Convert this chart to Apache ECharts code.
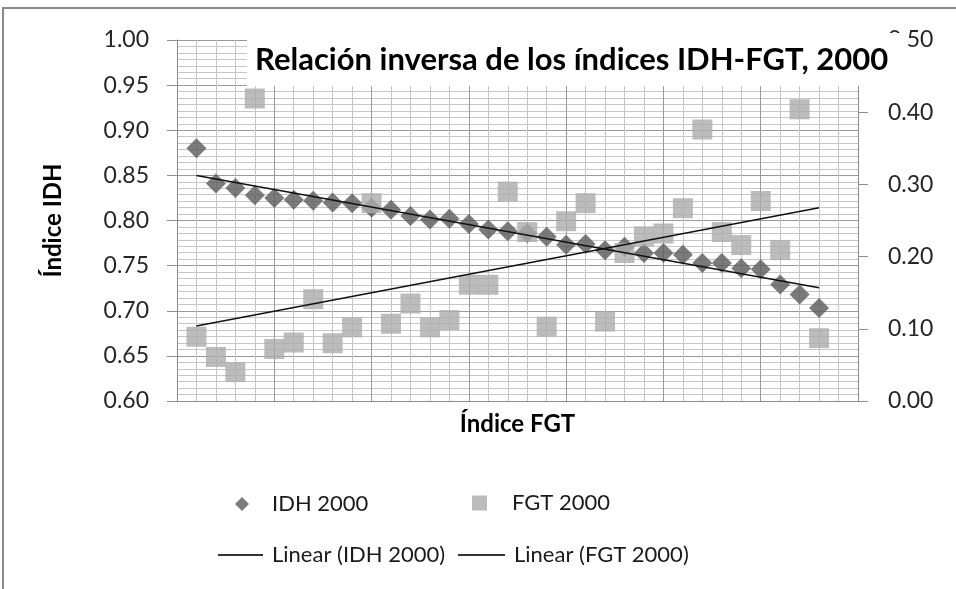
<!DOCTYPE html>
<html><head><meta charset="utf-8">
<script src="https://cdn.jsdelivr.net/npm/echarts/dist/echarts.min.js"></script>
<style>html,body{margin:0;padding:0;background:#fff}#c{width:956px;height:589px}</style>
</head><body><div id="c"></div>
<script>
// Observation index along the (unlabelled) horizontal axis
const obsIndex = [1,2,3,4,5,6,7,8,9,10,11,12,13,14,15,16,17,18,19,20,21,22,23,24,25,26,27,28,29,30,31,32,33];
// IDH 2000 (left axis)
const idh2000 = [0.880,0.841,0.836,0.828,0.825,0.823,0.822,0.820,0.819,0.814,0.812,0.805,0.801,0.802,0.796,0.790,
                 0.788,0.786,0.782,0.773,0.774,0.767,0.771,0.764,0.764,0.762,0.753,0.753,0.747,0.746,0.729,0.718,0.703];
// FGT 2000 (right axis)
const fgt2000 = [0.089,0.061,0.040,0.419,0.072,0.081,0.141,0.080,0.102,0.274,0.107,0.135,0.102,0.112,0.161,0.161,
                 0.290,0.234,0.103,0.249,0.274,0.110,0.205,0.228,0.232,0.267,0.376,0.234,0.216,0.277,0.209,0.404,0.087];
const seriesNames = ['IDH 2000','FGT 2000','Linear (IDH 2000)','Linear (FGT 2000)'];
const titleText = 'Relación inversa de los índices IDH-FGT, 2000';
const leftAxisName = 'Índice IDH';
const bottomAxisName = 'Índice FGT';

function linFit(xs, ys){
  const n = xs.length;
  let sx=0, sy=0; for(let i=0;i<n;i++){sx+=xs[i]; sy+=ys[i];}
  const mx=sx/n, my=sy/n; let sxy=0, sxx=0;
  for(let i=0;i<n;i++){sxy+=(xs[i]-mx)*(ys[i]-my); sxx+=(xs[i]-mx)*(xs[i]-mx);}
  const b=sxy/sxx, a=my-b*mx;
  const x0=xs[0], x1=xs[n-1];
  return [[x0,a+b*x0],[x1,a+b*x1]];
}
const pair = (xs, ys) => xs.map((x,i)=>[x, ys[i]]);

const FONT = 'Lato';
const axisGray = '#8c8c8c';
const chart = echarts.init(document.getElementById('c'));
const legendBase = {orient:'horizontal', padding:0, selectedMode:false,
  textStyle:{fontFamily:FONT, fontSize:22, color:'#1a1a1a', lineHeight:26}};
chart.setOption({
  animation:false,
  backgroundColor:'#fff',
  title:{text:titleText, left:247, top:33, backgroundColor:'#fff', padding:[10,18,10,8],
    textStyle:{fontFamily:FONT, fontWeight:'bold', fontSize:31, color:'#000', lineHeight:33}},
  graphic:[{type:'rect', silent:true, z:-10, shape:{x:3,y:8,width:1000,height:1000},
    style:{fill:'none', stroke:'#8a8a8a', lineWidth:2}}],
  grid:{left:177, right:98, top:40, bottom:188, containLabel:false},
  legend:[
    Object.assign({}, legendBase, {data:[{name:seriesNames[0], icon:'diamond'}], left:235, top:491, itemWidth:14, itemHeight:14,
      textStyle:Object.assign({}, legendBase.textStyle, {padding:[0,0,0,18]})}),
    Object.assign({}, legendBase, {data:[{name:seriesNames[1], icon:'rect'}], left:472, top:490, itemWidth:15, itemHeight:15,
      textStyle:Object.assign({}, legendBase.textStyle, {padding:[0,0,0,20]})}),
    Object.assign({}, legendBase, {data:[{name:seriesNames[2], icon:'rect'}], left:218, top:542, itemWidth:45, itemHeight:2,
      textStyle:Object.assign({}, legendBase.textStyle, {padding:[0,0,0,4]})}),
    Object.assign({}, legendBase, {data:[{name:seriesNames[3], icon:'rect'}], left:458, top:542, itemWidth:47, itemHeight:2,
      textStyle:Object.assign({}, legendBase.textStyle, {padding:[0,0,0,4]})})
  ],
  xAxis:{type:'value', min:0, max:35, interval:5,
    axisLine:{show:true, onZero:false, lineStyle:{color:axisGray}},
    axisTick:{show:false}, axisLabel:{show:false},
    splitLine:{show:true, lineStyle:{color:'#9a9a9a'}},
    minorTick:{show:false, splitNumber:5},
    minorSplitLine:{show:true, lineStyle:{color:'#c6c6c6'}},
    name:bottomAxisName, nameLocation:'middle', nameGap:11,
    nameTextStyle:{fontFamily:FONT, fontWeight:'bold', fontSize:24, color:'#000'}},
  yAxis:[
    {type:'value', position:'left', min:0.6, max:1.0, interval:0.05,
      axisLine:{show:true, onZero:false, lineStyle:{color:axisGray}},
      axisTick:{show:true, length:10, lineStyle:{color:axisGray}},
      axisLabel:{formatter:v=>v.toFixed(2), fontFamily:FONT, fontSize:23, color:'#262626', margin:28},
      splitLine:{show:true, lineStyle:{color:'#9a9a9a'}},
      minorTick:{show:false, splitNumber:7},
      minorSplitLine:{show:true, lineStyle:{color:'#c6c6c6'}},
      name:leftAxisName, nameLocation:'middle', nameGap:112, nameRotate:90,
      nameTextStyle:{fontFamily:FONT, fontWeight:'bold', fontSize:24, color:'#000'}},
    {type:'value', position:'right', min:0, max:0.5, interval:0.1,
      axisLine:{show:true, onZero:false, lineStyle:{color:axisGray}},
      axisTick:{show:true, length:10, lineStyle:{color:axisGray}},
      axisLabel:{formatter:v=>v.toFixed(2), fontFamily:FONT, fontSize:23, color:'#262626', margin:30},
      splitLine:{show:false}}
  ],
  series:[
    {name:seriesNames[0], type:'scatter', yAxisIndex:0, symbol:'diamond', symbolSize:[20,20],
      itemStyle:{color:'#5a5a5a'}, data:pair(obsIndex, idh2000), z:2},
    {name:seriesNames[1], type:'scatter', yAxisIndex:1, symbol:'rect', symbolSize:20,
      itemStyle:{color:'#ababab'}, data:pair(obsIndex, fgt2000), z:3},
    {name:seriesNames[2], type:'line', yAxisIndex:0, symbol:'none', itemStyle:{color:'#333'},
      lineStyle:{color:'#111', width:1.5}, data:linFit(obsIndex, idh2000), z:4},
    {name:seriesNames[3], type:'line', yAxisIndex:1, symbol:'none', itemStyle:{color:'#333'},
      lineStyle:{color:'#111', width:1.5}, data:linFit(obsIndex, fgt2000), z:4}
  ]
});
</script></body></html>
